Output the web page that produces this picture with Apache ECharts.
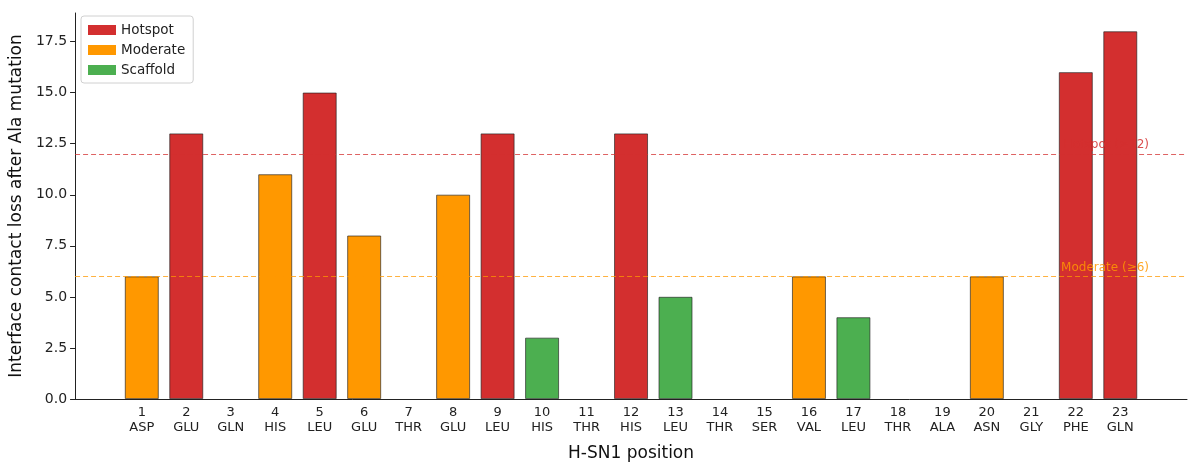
<!DOCTYPE html>
<html>
<head>
<meta charset="utf-8">
<script src="https://cdn.jsdelivr.net/npm/echarts@6/dist/echarts.min.js"></script>
<style>
  html, body { margin: 0; padding: 0; background: #fff; }
  #chart { width: 1200px; height: 468px; }
</style>
</head>
<body>
<div id="chart"></div>
<script>
// residue positions along H-SN1
const positions = [1,2,3,4,5,6,7,8,9,10,11,12,13,14,15,16,17,18,19,20,21,22,23]
const residues = ['ASP','GLU','GLN','HIS','LEU','GLU','THR','GLU','LEU','HIS','THR','HIS','LEU','THR','SER','VAL','LEU','THR','ALA','ASN','GLY','PHE','GLN']
const contactLoss = [6,13,0,11,15,8,0,10,13,3,0,13,5,0,0,6,4,0,0,6,0,16,18]
const classes = ['Moderate','Hotspot','','Moderate','Hotspot','Moderate','','Moderate','Hotspot','Scaffold','','Hotspot','Scaffold','','','Moderate','Scaffold','','','Moderate','','Hotspot','Hotspot']
const classNames = ['Hotspot','Moderate','Scaffold']
const classColors = {Hotspot:'#d32f2f', Moderate:'#ff9800', Scaffold:'#4caf50'}
const thresholds = [12, 6]
const thresholdNames = ['Hotspot (≥12)', 'Moderate (≥6)']
const yTicks = [0, 2.5, 5, 7.5, 10, 12.5, 15, 17.5]

// one empty slot at each end so the axis has the same side margin
const cats = [''].concat(positions.map((p, i) => p + '\n' + residues[i]), [''])

const font = 'DejaVu Sans'
var myChart = echarts.init(document.getElementById('chart'))

const barSeries = classNames.map(name => ({
  name: name,
  type: 'bar',
  stack: 'all',
  barWidth: '76%',
  z: 3,
  itemStyle: { color: classColors[name], borderColor: 'rgba(30,30,30,0.8)', borderWidth: 0.8 },
  data: ['-'].concat(contactLoss.map((v, i) => classes[i] === name && v > 0 ? v : '-'), ['-'])
}))

const lineSeries = {
  name: 'thresholds',
  type: 'line',
  z: 1,
  data: [],
  markLine: {
    silent: true,
    symbol: 'none',
    data: thresholds.map((t, i) => {
      const c = classColors[classNames[i]]
      return {
        yAxis: t,
        lineStyle: { color: c, type: [5, 3], width: 1, opacity: 0.75 },
        label: {
          show: true, position: 'insideEndTop', formatter: thresholdNames[i],
          color: c, opacity: 0.85, fontFamily: font, fontSize: 12, padding: [0, 35, 0, 0], distance: 3
        }
      }
    })
  }
}

const option = {
  animation: false,
  grid: { left: 74, right: 13, top: 13, bottom: 69 },
  legend: {
    data: classNames,
    orient: 'vertical',
    left: 81, top: 16,
    itemWidth: 28, itemHeight: 10, itemGap: 4,
    itemStyle: { borderWidth: 0 },
    borderColor: '#d0d0d0', borderWidth: 1, borderRadius: 3,
    padding: [6, 8, 5, 7],
    textStyle: { fontFamily: font, fontSize: 13.5, color: '#222', lineHeight: 16 },
    icon: 'rect'
  },
  xAxis: {
    type: 'category',
    data: cats,
    name: 'H-SN1 position',
    nameLocation: 'middle',
    nameGap: 46,
    nameTextStyle: { fontFamily: font, fontSize: 17, color: '#111' },
    axisLine: { lineStyle: { color: '#222', width: 1 } },
    axisTick: { alignWithLabel: true, length: 5, lineStyle: { color: '#222' }, interval: (i, v) => v !== '' },
    axisLabel: { interval: 0, fontFamily: font, fontSize: 13, color: '#222', lineHeight: 15, margin: 6 }
  },
  yAxis: {
    type: 'value',
    min: 0, max: 18.9,
    name: 'Interface contact loss after Ala mutation',
    nameLocation: 'middle',
    nameGap: 46,
    nameTextStyle: { fontFamily: font, fontSize: 17, color: '#111' },
    splitLine: { show: false },
    axisLine: { show: true, lineStyle: { color: '#222', width: 1 } },
    axisTick: { show: true, length: 5, lineStyle: { color: '#222' }, customValues: yTicks },
    axisLabel: { fontFamily: font, fontSize: 14, color: '#222', margin: 8, customValues: yTicks,
      formatter: v => v.toFixed(1) }
  },
  series: barSeries.concat([lineSeries])
}

myChart.setOption(option)
</script>
</body>
</html>
